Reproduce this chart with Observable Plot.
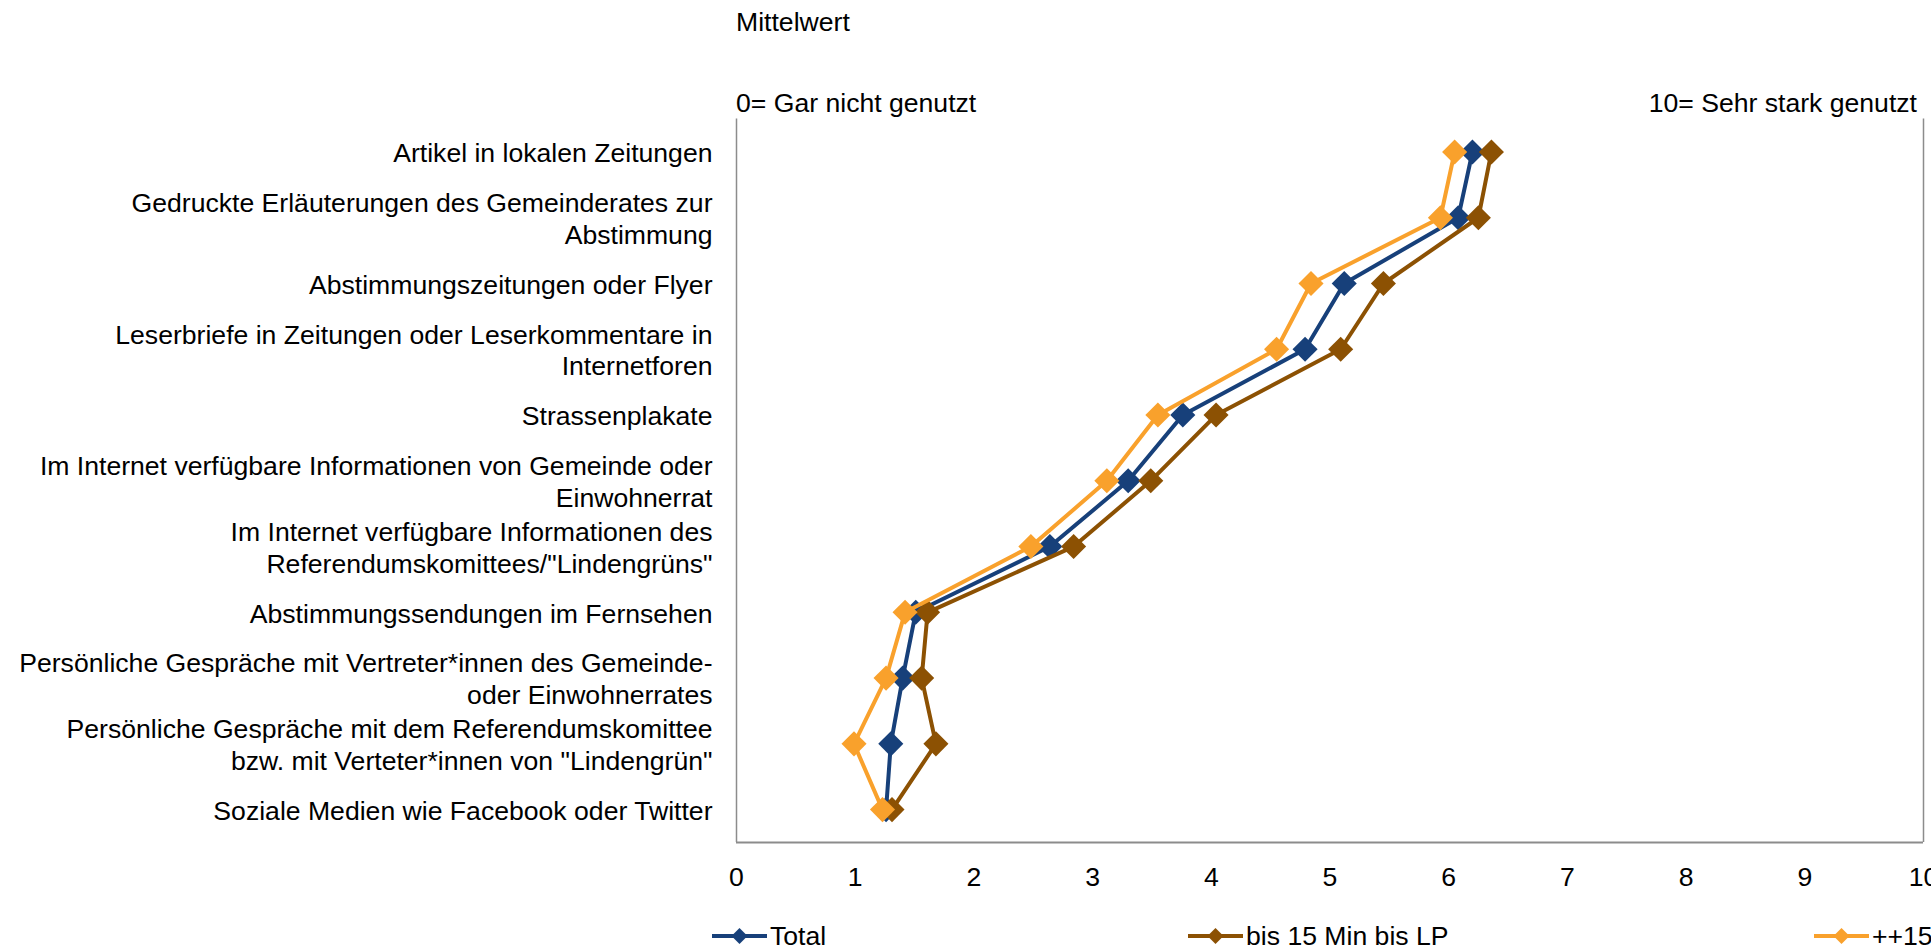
<!DOCTYPE html>
<html>
<head>
<meta charset="utf-8">
<script src="https://cdn.jsdelivr.net/npm/d3@7"></script>
<script src="https://cdn.jsdelivr.net/npm/@observablehq/plot@0.6"></script>
<style>
  html, body { margin: 0; padding: 0; background: #fff; overflow: hidden; }
  body { width: 1931px; height: 949px; font-family: "Liberation Sans", Arial, sans-serif; color: #000; }
  .hdr { position: relative; height: 110px; width: 1931px; }
  .hdr span { position: absolute; font-size: 26.6px; line-height: 30px; white-space: nowrap; }
  #chart svg { display: block; }
  .legend { position: relative; height: 47px; width: 1931px; }
  .legend .item { position: absolute; top: 19px; height: 30px; display: flex; align-items: center; font-size: 26.6px; white-space: nowrap; }
  .legend svg { display: block; margin-right: 3px; }
</style>
</head>
<body>
<div class="hdr">
  <span id="t-mw" style="left:736px; top:7px;"></span>
  <span id="t-lo" style="left:736px; top:88px;"></span>
  <span id="t-hi" style="right:14px; top:88px;"></span>
</div>
<div id="chart"></div>
<div class="legend" id="legend"></div>
<script>
// ---- data ----
const title = "Mittelwert";
const lowLabel = "0= Gar nicht genutzt";
const highLabel = "10= Sehr stark genutzt";

const categories = [
  "Artikel in lokalen Zeitungen",
  "Gedruckte Erläuterungen des Gemeinderates zur\nAbstimmung",
  "Abstimmungszeitungen oder Flyer",
  "Leserbriefe in Zeitungen oder Leserkommentare in\nInternetforen",
  "Strassenplakate",
  "Im Internet verfügbare Informationen von Gemeinde oder\nEinwohnerrat",
  "Im Internet verfügbare Informationen des\nReferendumskomittees/\"Lindengrüns\"",
  "Abstimmungssendungen im Fernsehen",
  "Persönliche Gespräche mit Vertreter*innen des Gemeinde-\noder Einwohnerrates",
  "Persönliche Gespräche mit dem Referendumskomittee\nbzw. mit Verteter*innen von \"Lindengrün\"",
  "Soziale Medien wie Facebook oder Twitter"
];

const seriesNames = ["Total", "bis 15 Min bis LP", "++15"];
const totalValues  = [6.20, 6.08, 5.12, 4.79, 3.76, 3.30, 2.64, 1.51, 1.40, 1.30, 1.26];
const bis15Values  = [6.36, 6.25, 5.45, 5.09, 4.04, 3.49, 2.84, 1.61, 1.56, 1.68, 1.31];
const plus15Values = [6.05, 5.93, 4.84, 4.55, 3.55, 3.12, 2.48, 1.42, 1.26, 0.99, 1.23];
const seriesColors = ["#17407a", "#8c5103", "#f9a12c"];
const xTicks = [0, 1, 2, 3, 4, 5, 6, 7, 8, 9, 10];

// ---- build table ----
const seriesValues = [totalValues, bis15Values, plus15Values];
const table = seriesNames.map((name, s) =>
  categories.map((cat, i) => ({series: name, category: cat, idx: i, value: seriesValues[s][i]}))
);
const catRows = categories.map((c, i) => ({category: c, idx: i}));

document.getElementById("t-mw").textContent = title;
document.getElementById("t-lo").textContent = lowLabel;
document.getElementById("t-hi").textContent = highLabel;

const n = categories.length;
const axisColor = "#8c8c8c";
const seriesMarks = [];
table.forEach((rows, s) => {
  seriesMarks.push(Plot.line(rows, {x: "value", y: "idx", stroke: seriesColors[s], strokeWidth: 4, strokeLinejoin: "round"}));
  seriesMarks.push(Plot.dot(rows, {x: "value", y: "idx", symbol: "diamond2", r: 11.3, fill: seriesColors[s], stroke: "none"}));
});

const chart = Plot.plot({
  width: 1931,
  height: 792,
  marginLeft: 736,
  marginRight: 8,
  marginTop: 8.6,
  marginBottom: 60,
  style: {fontFamily: "'Liberation Sans', Arial, sans-serif", fontSize: "26.6px", color: "#000", background: "#fff", overflow: "visible"},
  x: {domain: [0, 10], ticks: xTicks, tickSize: 0, tickPadding: 25, label: null, tickFormat: d => String(d)},
  y: {domain: [n - 0.5, -0.5], axis: null},
  marks: [
    Plot.ruleX([0], {stroke: axisColor, strokeWidth: 1.5}),
    Plot.ruleX([10], {stroke: axisColor, strokeWidth: 1.5}),
    Plot.ruleY([n - 0.5], {stroke: axisColor, strokeWidth: 2}),
    Plot.text(catRows, {y: "idx", text: "category", frameAnchor: "left", textAnchor: "end", dx: -24, lineAnchor: "middle", lineHeight: 1.2, fontSize: 26.6, fill: "#000"}),
    ...seriesMarks
  ]
});
document.getElementById("chart").appendChild(chart);

// ---- legend ----
const legendX = [712, 1188, 1814];
const legend = document.getElementById("legend");
seriesNames.forEach((name, s) => {
  const item = document.createElement("div");
  item.className = "item";
  item.style.left = legendX[s] + "px";
  const sw = d3.create("svg").attr("width", 55).attr("height", 20);
  sw.append("line").attr("x1", 0).attr("x2", 55).attr("y1", 10).attr("y2", 10)
    .attr("stroke", seriesColors[s]).attr("stroke-width", 4);
  sw.append("path").attr("d", "M27.5,2L35.5,10L27.5,18L19.5,10Z").attr("fill", seriesColors[s]);
  item.appendChild(sw.node());
  const t = document.createElement("span");
  t.textContent = name;
  item.appendChild(t);
  legend.appendChild(item);
});
</script>
</body>
</html>
